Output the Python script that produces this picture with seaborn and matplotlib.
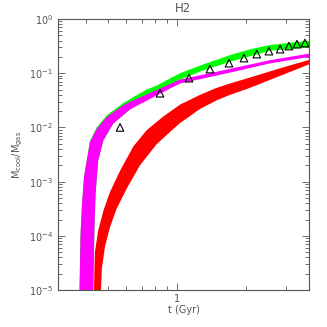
import numpy as np
import matplotlib
matplotlib.use("Agg")
import matplotlib.pyplot as plt
import seaborn as sns
import pandas as pd

# ---- data; y values given as log10 ----
red_t_up = [0.431, 0.434, 0.438, 0.453, 0.477, 0.509, 0.564, 0.645, 0.738, 0.871, 1.031, 1.26, 1.491, 1.704, 2.084, 2.818, 3.809]
red_logy_up = [-6.0, -5.0, -4.3, -3.9, -3.54, -3.2, -2.8, -2.35, -2.05, -1.80, -1.58, -1.40, -1.27, -1.19, -1.08, -0.91, -0.75]
red_t_lo = [0.462, 0.466, 0.470, 0.485, 0.509, 0.545, 0.603, 0.689, 0.815, 0.963, 1.031, 1.26, 1.491, 1.704, 2.084, 2.818, 3.809]
red_logy_lo = [-6.0, -5.0, -4.6, -4.2, -3.85, -3.5, -3.13, -2.70, -2.31, -2.03, -1.92, -1.66, -1.50, -1.40, -1.27, -1.05, -0.83]

mag_t_up = [0.372, 0.379, 0.385, 0.393, 0.417, 0.446, 0.493, 0.583, 0.623, 0.815, 1.031, 1.26, 1.704, 2.547, 3.809]
mag_logy_up = [-6.0, -4.0, -3.4, -2.9, -2.27, -2.03, -1.81, -1.59, -1.53, -1.31, -1.117, -1.04, -0.92, -0.76, -0.636]
mag_t_lo = [0.428, 0.431, 0.436, 0.441, 0.453, 0.477, 0.527, 0.623, 0.815, 1.031, 1.26, 1.704, 2.547, 3.809]
mag_logy_lo = [-6.0, -5.0, -3.9, -3.23, -2.61, -2.24, -1.93, -1.67, -1.41, -1.19, -1.11, -0.99, -0.82, -0.698]

grn_t_up = [0.372, 0.379, 0.385, 0.393, 0.417, 0.446, 0.493, 0.583, 0.738, 0.815, 1.031, 1.26, 1.704, 2.084, 2.547, 3.809]
grn_logy_up = [-6.0, -4.0, -3.4, -2.9, -2.25, -2.0, -1.78, -1.55, -1.30, -1.23, -1.0, -0.86, -0.667, -0.56, -0.48, -0.40]
grn_t_lo = [0.428, 0.431, 0.436, 0.441, 0.453, 0.477, 0.527, 0.623, 0.815, 1.031, 1.26, 1.704, 2.547, 3.809]
grn_logy_lo = [-6.0, -5.0, -3.9, -3.23, -2.61, -2.24, -1.93, -1.67, -1.33, -1.12, -0.97, -0.79, -0.587, -0.525]

obs_t = [0.564, 0.843, 1.128, 1.393, 1.687, 1.96, 2.23, 2.52, 2.82, 3.08, 3.34, 3.62]
obs_f = [0.0100, 0.0427, 0.081, 0.119, 0.153, 0.19, 0.225, 0.255, 0.278, 0.316, 0.344, 0.36]

title = "H2"
xlabel = "t (Gyr)"
ylabel = r"M$_{\rm cool}$/M$_{\rm gas}$"

# ---- style ----
sns.set_style("ticks")
plt.rcParams['font.family'] = ['DejaVu Sans']
gray = "#555555"
plt.rcParams.update({
    "axes.edgecolor": gray, "xtick.color": gray, "ytick.color": gray,
    "text.color": gray, "axes.labelcolor": gray,
})

fig = plt.figure(figsize=(3.27, 3.27), dpi=100)
ax = fig.add_axes([0.177, 0.113, 0.768, 0.829])
ax.set_xscale("log")
ax.set_yscale("log")


def band(t_up, ly_up, t_lo, ly_lo, color):
    xs = list(t_up) + list(t_lo)[::-1]
    ys = list(np.power(10.0, ly_up)) + list(np.power(10.0, ly_lo))[::-1]
    ax.fill(xs, ys, color=color, lw=0, zorder=2)


band(red_t_up, red_logy_up, red_t_lo, red_logy_lo, "#ff0000")
band(grn_t_up, grn_logy_up, grn_t_lo, grn_logy_lo, "#00ff00")
band(mag_t_up, mag_logy_up, mag_t_lo, mag_logy_lo, "#ff00ff")
ax.plot([0.302, mag_t_up[0]], [1e-5, 1e-5], color="#ff00ff", lw=1.0, alpha=0.35, zorder=1)

df = pd.DataFrame({"t": obs_t, "f": obs_f})
sns.scatterplot(data=df, x="t", y="f", ax=ax, marker="^", s=30,
                facecolor="none", edgecolor="black", linewidth=0.8, zorder=5)

ax.set_xlim(0.302, 3.77)
ax.set_ylim(1e-5, 1)

ax.set_title(title, fontsize=8.5, color=gray, pad=5)
ax.set_xlabel(xlabel, fontsize=7, labelpad=1)
ax.set_ylabel(ylabel, fontsize=7, labelpad=3)

ax.tick_params(which="both", direction="in", top=True, right=True, labelsize=7, width=0.6)
ax.tick_params(axis="x", pad=2.5)
ax.tick_params(which="major", length=5)
ax.tick_params(which="minor", length=3)
ax.xaxis.set_major_locator(matplotlib.ticker.FixedLocator([1]))
ax.xaxis.set_major_formatter(matplotlib.ticker.FixedFormatter(["1"]))
ax.xaxis.set_minor_locator(matplotlib.ticker.FixedLocator([0.4, 0.5, 0.6, 0.7, 0.8, 0.9, 2, 3]))
ax.xaxis.set_minor_formatter(matplotlib.ticker.NullFormatter())
ax.yaxis.set_major_locator(matplotlib.ticker.LogLocator(base=10, numticks=10))
ax.yaxis.set_minor_locator(matplotlib.ticker.LogLocator(base=10, subs=np.arange(2, 10), numticks=10))
ax.yaxis.set_minor_formatter(matplotlib.ticker.NullFormatter())
for s in ax.spines.values():
    s.set_linewidth(0.8)
    s.set_color(gray)
if ax.get_legend():
    ax.get_legend().remove()

fig.savefig("out.png", dpi=100)
